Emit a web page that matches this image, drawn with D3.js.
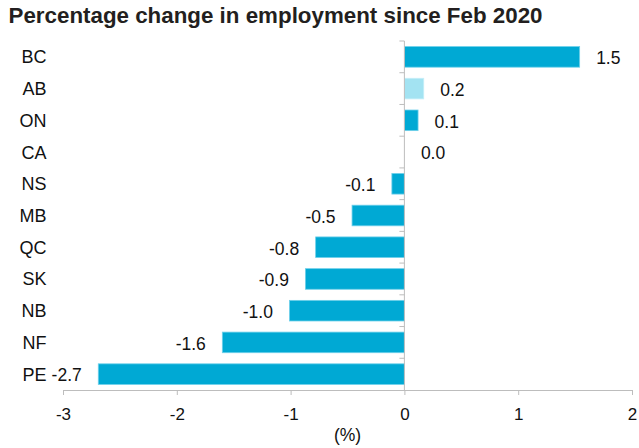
<!DOCTYPE html>
<html>
<head>
<meta charset="utf-8">
<script src="https://cdn.jsdelivr.net/npm/d3@7/dist/d3.min.js"></script>
<style>
  html, body { margin: 0; padding: 0; background: #fff; }
  svg { display: block; font-family: "Liberation Sans", Arial, Helvetica, sans-serif; }
</style>
</head>
<body>
<svg id="chart" width="639" height="448"></svg>
<script>
// Provinces, ordered top to bottom
const provinces = ["BC", "AB", "ON", "CA", "NS", "MB", "QC", "SK", "NB", "NF", "PE"];
// Percentage change in employment since Feb 2020
const changes = [1.54, 0.17, 0.12, 0.0, -0.11, -0.46, -0.78, -0.87, -1.01, -1.6, -2.69];
// Highlighted province drawn in the lighter shade
const highlighted = ["AB"];
const xTicks = [-3, -2, -1, 0, 1, 2];

const data = provinces.map((p, i) => ({ name: p, value: changes[i] }));

const svg = d3.select("#chart");
const margin = { top: 41, right: 7, bottom: 58, left: 63 };
const W = 639, H = 448;

const x = d3.scaleLinear().domain([-3, 2]).range([margin.left, W - margin.right]);
const y = d3.scaleBand().domain(provinces)
  .range([margin.top, H - margin.bottom])
  .paddingInner(0.35).paddingOuter(0.175);

const axisColor = "#bdbdbd";
const barColor = "#00a9d4";
const lightColor = "#a3e3f2";
const textColor = "#111";
const labelSize = 17.5;

// Title
svg.append("text")
  .attr("x", 8.5).attr("y", 23)
  .attr("font-weight", "bold")
  .attr("font-size", 21.5)
  .attr("textLength", 534)
  .attr("lengthAdjust", "spacingAndGlyphs")
  .attr("fill", "#231f20")
  .text("Percentage change in employment since Feb 2020");

// Bars
svg.append("g").selectAll("rect").data(data).join("rect")
  .attr("x", d => x(Math.min(0, d.value)))
  .attr("y", d => y(d.name))
  .attr("width", d => Math.abs(x(d.value) - x(0)))
  .attr("height", y.bandwidth())
  .attr("fill", d => highlighted.includes(d.name) ? lightColor : barColor)
  .attr("stroke", d => d.value === 0 ? "none" : (highlighted.includes(d.name) ? "#c6eef8" : "#6fd0ea"))
  .attr("stroke-width", 0.8);

// X axis
const xAxis = d3.axisBottom(x).tickValues(xTicks).tickSize(5).tickPadding(12.5)
  .tickFormat(d => String(d));
const gx = svg.append("g")
  .attr("transform", `translate(0,${H - margin.bottom})`)
  .call(xAxis);
gx.select(".domain").attr("stroke", axisColor);
gx.selectAll(".tick line").attr("stroke", axisColor);
gx.selectAll(".tick text").attr("font-size", 17).attr("fill", textColor)
  .attr("font-family", "Liberation Sans, Arial, sans-serif");

svg.append("text")
  .attr("x", (x(-3) + x(2)) / 2).attr("y", 440.5)
  .attr("text-anchor", "middle")
  .attr("font-size", 17.5).attr("fill", textColor)
  .text("(%)");

// Y axis line at zero with ticks on category boundaries
const step = y.step();
const top0 = y.range()[0];
const boundaries = d3.range(provinces.length).map(i => top0 + i * step);
const gy = svg.append("g");
gy.append("line")
  .attr("x1", x(0)).attr("x2", x(0))
  .attr("y1", top0).attr("y2", y.range()[1])
  .attr("stroke", axisColor);
gy.selectAll("line.tick").data(boundaries).join("line")
  .attr("class", "tick")
  .attr("x1", x(0) - 5).attr("x2", x(0))
  .attr("y1", d => d).attr("y2", d => d)
  .attr("stroke", axisColor);

// Category labels
svg.append("g").selectAll("text").data(data).join("text")
  .attr("x", 46.5)
  .attr("y", d => y(d.name) + y.bandwidth() / 2)
  .attr("dy", "0.36em")
  .attr("text-anchor", "end")
  .attr("font-size", 18).attr("fill", textColor)
  .text(d => d.name);

// Value labels
svg.append("g").selectAll("text").data(data).join("text")
  .attr("x", d => d.value < 0 ? x(d.value) - 16.5 : x(d.value) + 16.5)
  .attr("y", d => y(d.name) + y.bandwidth() / 2 + 1)
  .attr("dy", "0.36em")
  .attr("text-anchor", d => d.value < 0 ? "end" : "start")
  .attr("font-size", labelSize).attr("fill", textColor)
  .text(d => d.value.toFixed(1));
</script>
</body>
</html>
